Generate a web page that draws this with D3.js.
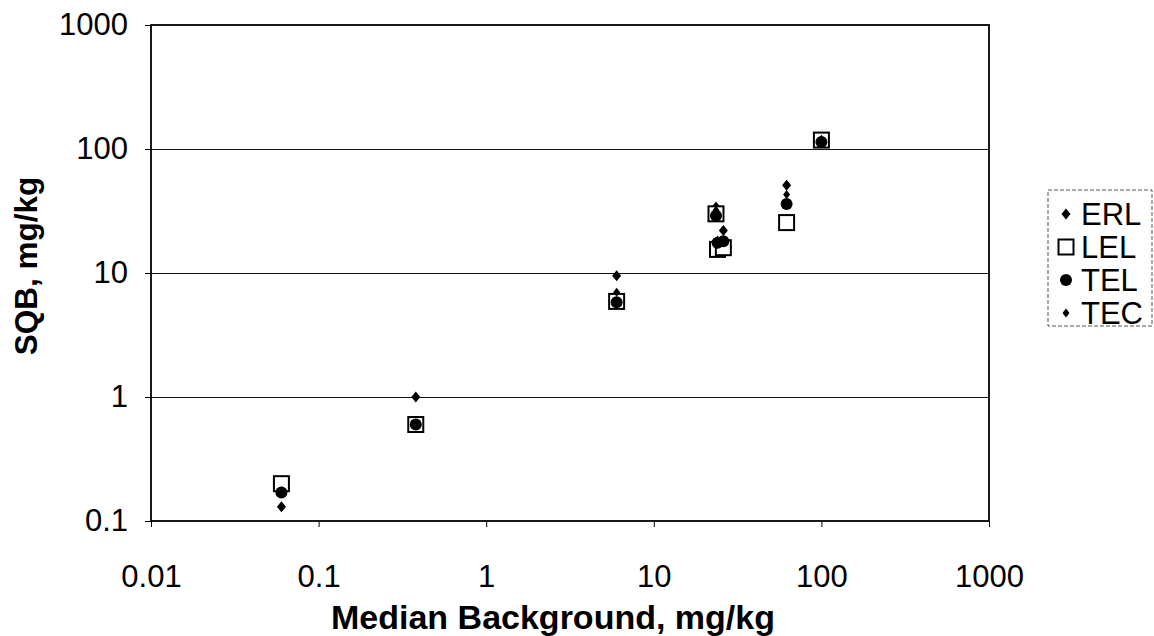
<!DOCTYPE html>
<html>
<head>
<meta charset="utf-8">
<script src="https://cdn.jsdelivr.net/npm/d3@7"></script>
<style>
  html, body { margin: 0; padding: 0; background: #fff; }
  svg { display: block; font-family: "Liberation Sans", Arial, sans-serif; }
</style>
</head>
<body>
<svg id="chart" width="1154" height="636"></svg>
<script>
// ---- data ----
const background = [0.06, 0.38, 6.0, 23.5, 24.0, 26.0, 62, 100];
const erl = [0.13, 1.0, 9.5, 34, 18, 22, 51, 118];
const lel = [0.2, 0.6, 5.9, 30, 15.5, 16, 25.5, 118];
const tel = [0.17, 0.6, 5.8, 29, 17.5, 18, 36, 114];
const tec = [0.175, 0.6, 7.0, 32, 17.5, 18.5, 43, 120];
const seriesNames = ["ERL", "LEL", "TEL", "TEC"];
const xTicks = [0.01, 0.1, 1, 10, 100, 1000];
const yTicks = [0.1, 1, 10, 100, 1000];
const xTickLabels = ["0.01", "0.1", "1", "10", "100", "1000"];
const yTickLabels = ["0.1", "1", "10", "100", "1000"];

const seriesValues = [erl, lel, tel, tec];

const svg = d3.select("#chart");
const m = { left: 151, top: 25, right: 165, bottom: 115 };
const W = 1154, H = 636;
const pw = W - m.left - m.right, ph = H - m.top - m.bottom;

const x = d3.scaleLog().domain([0.01, 1000]).range([m.left, m.left + pw]);
const y = d3.scaleLog().domain([0.1, 1000]).range([m.top + ph, m.top]);

// gridlines
svg.append("g").selectAll("line").data(yTicks.slice(1, -1)).join("line")
  .attr("x1", m.left).attr("x2", m.left + pw)
  .attr("y1", d => Math.round(y(d)) + 0.5).attr("y2", d => Math.round(y(d)) + 0.5)
  .attr("stroke", "#111").attr("stroke-width", 1);

// axes
const xAxis = d3.axisBottom(x).tickValues(xTicks).tickFormat((d, i) => xTickLabels[i]).tickSize(6).tickPadding(38);
const gx = svg.append("g").attr("transform", `translate(0,${m.top + ph})`).call(xAxis);
gx.select(".domain").remove();
gx.selectAll("line").attr("stroke", "#000");
gx.selectAll("text").attr("font-size", 31).attr("fill", "#000")
  .attr("font-family", "'Liberation Sans', Arial, sans-serif");

const yAxis = d3.axisLeft(y).tickValues(yTicks).tickFormat((d, i) => yTickLabels[i]).tickSize(6).tickPadding(17);
const gy = svg.append("g").attr("transform", `translate(${m.left},0)`).call(yAxis);
gy.select(".domain").remove();
gy.selectAll("line").attr("stroke", "#000");
gy.selectAll("text").attr("font-size", 31).attr("fill", "#000")
  .attr("font-family", "'Liberation Sans', Arial, sans-serif");

// frame
svg.append("rect").attr("x", m.left).attr("y", m.top).attr("width", pw).attr("height", ph)
  .attr("fill", "none").attr("stroke", "#000").attr("stroke-width", 1.8);

// axis titles
svg.append("text").attr("x", 553).attr("y", 629).attr("text-anchor", "middle")
  .attr("font-size", 34).attr("font-weight", "bold").text("Median Background, mg/kg");
svg.append("text").attr("transform", "translate(37,266) rotate(-90)").attr("text-anchor", "middle")
  .attr("font-size", 31.5).attr("font-weight", "bold").text("SQB, mg/kg");

// marker shapes
function diamond(w, h) { return `M0,${-h}L${w},0L0,${h}L${-w},0Z`; }
const markers = {
  ERL: g => g.append("path").attr("d", diamond(4.5, 5.5)).attr("fill", "#000"),
  LEL: g => g.append("rect").attr("x", -7.5).attr("y", -7.5).attr("width", 15).attr("height", 15)
          .attr("fill", "#fff").attr("stroke", "#000").attr("stroke-width", 2),
  TEL: g => g.append("circle").attr("r", 6).attr("fill", "#000"),
  TEC: g => g.append("path").attr("d", diamond(3.5, 4.5)).attr("fill", "#000")
};

seriesNames.forEach((name, si) => {
  const vals = seriesValues[si];
  const g = svg.append("g");
  background.forEach((bx, i) => {
    const pg = g.append("g").attr("transform", `translate(${x(bx)},${y(vals[i])})`);
    markers[name](pg);
  });
});

// legend
const lg = svg.append("g");
lg.append("rect").attr("x", 1048).attr("y", 190).attr("width", 104).attr("height", 136)
  .attr("fill", "#fff").attr("stroke", "#555").attr("stroke-width", 1).attr("stroke-dasharray", "4,2");
seriesNames.forEach((name, i) => {
  const cy = 214 + i * 33;
  const mg = lg.append("g").attr("transform", `translate(1066,${cy})`);
  markers[name](mg);
  lg.append("text").attr("x", 1081).attr("y", cy).attr("dy", "0.36em")
    .attr("font-size", 31).text(name);
});
</script>
</body>
</html>
